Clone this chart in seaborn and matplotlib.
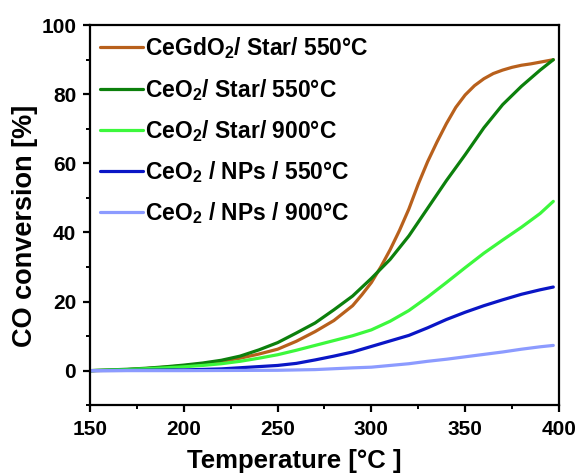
import matplotlib
matplotlib.use("Agg")
import matplotlib.pyplot as plt
from matplotlib.ticker import MultipleLocator
import pandas as pd
import seaborn as sns

# Light-off curves: CO conversion (%) versus temperature (°C)
temp_gd_star550 = [150, 160, 170, 180, 190, 200, 210, 220, 230, 240, 250, 260, 270, 280,
                   290, 295, 300, 305, 310, 315, 320, 325, 330, 335, 340, 345, 350, 355,
                   360, 365, 370, 375, 380, 385, 390, 397]
conv_gd_star550 = [0.0, 0.1, 0.3, 0.6, 1.0, 1.4, 2.0, 2.7, 3.6, 4.8, 6.2, 8.5, 11.3, 14.5,
                   18.8, 22.0, 25.5, 30.0, 35.0, 40.6, 46.8, 54.0, 60.5, 66.2, 71.5, 76.2, 79.8, 82.5,
                   84.5, 86.0, 87.0, 87.8, 88.4, 88.8, 89.3, 90.0]

temp_ce_star550 = [150, 160, 170, 180, 190, 200, 210, 220, 230, 240, 250, 260, 270, 280,
                   290, 300, 310, 320, 330, 340, 350, 360, 370, 380, 390, 397]
conv_ce_star550 = [0.0, 0.2, 0.4, 0.7, 1.1, 1.6, 2.2, 3.0, 4.2, 6.0, 8.1, 10.9, 13.8, 17.6,
                   21.6, 26.7, 32.2, 39.0, 47.0, 55.0, 62.5, 70.3, 77.0, 82.3, 87.0, 90.0]

temp_ce_star900 = [150, 170, 190, 200, 210, 220, 230, 240, 250, 260, 270, 280, 290, 300,
                   310, 320, 330, 340, 350, 360, 370, 380, 390, 397]
conv_ce_star900 = [0.0, 0.3, 0.8, 1.1, 1.5, 2.0, 2.7, 3.6, 4.6, 5.9, 7.3, 8.7, 10.1, 11.8,
                   14.3, 17.4, 21.3, 25.5, 29.8, 34.0, 37.8, 41.5, 45.5, 49.0]

temp_ce_nps550 = [150, 180, 200, 220, 235, 250, 260, 270, 280, 290, 300, 310, 320, 330,
                  340, 350, 360, 370, 380, 390, 397]
conv_ce_nps550 = [0.0, 0.1, 0.2, 0.5, 1.0, 1.5, 2.1, 3.1, 4.2, 5.4, 7.0, 8.6, 10.2, 12.4,
                  14.8, 16.9, 18.8, 20.5, 22.1, 23.4, 24.2]

temp_ce_nps900 = [150, 200, 250, 270, 290, 300, 310, 320, 330, 340, 350, 360, 370, 380,
                  390, 397]
conv_ce_nps900 = [0.0, 0.0, 0.1, 0.3, 0.8, 1.0, 1.5, 2.0, 2.7, 3.3, 4.0, 4.7, 5.4, 6.2,
                  6.9, 7.3]

series_labels = [
    "CeGdO$_2$/ Star/ 550°C",
    "CeO$_2$/ Star/ 550°C",
    "CeO$_2$/ Star/ 900°C",
    "CeO$_2$ / NPs / 550°C",
    "CeO$_2$ / NPs / 900°C",
]
series_colors = ["#B8601C", "#0C800C", "#3CF83C", "#0A16C6", "#8C9BFF"]

x_ticks = [150, 200, 250, 300, 350, 400]
y_ticks = [0, 20, 40, 60, 80, 100]

frames = []
for label, t, c in zip(series_labels,
                       [temp_gd_star550, temp_ce_star550, temp_ce_star900, temp_ce_nps550, temp_ce_nps900],
                       [conv_gd_star550, conv_ce_star550, conv_ce_star900, conv_ce_nps550, conv_ce_nps900]):
    frames.append(pd.DataFrame({"Temperature": t, "Conversion": c, "Sample": label}))
df = pd.concat(frames, ignore_index=True)

sns.set_theme(style="ticks")
plt.rcParams["font.family"] = ["Liberation Sans", "DejaVu Sans"]
plt.rcParams["font.weight"] = "bold"
plt.rcParams["text.color"] = "black"
plt.rcParams["axes.labelcolor"] = "black"
plt.rcParams["xtick.color"] = "black"
plt.rcParams["ytick.color"] = "black"
plt.rcParams["mathtext.fontset"] = "custom"
plt.rcParams["mathtext.rm"] = "Liberation Sans:bold"
plt.rcParams["mathtext.bf"] = "Liberation Sans:bold"
plt.rcParams["mathtext.it"] = "Liberation Sans:bold"
plt.rcParams["mathtext.default"] = "rm"

fig = plt.figure(figsize=(5.81, 4.75), dpi=100)
ax = fig.add_axes([0.155, 0.147, 0.807, 0.800])

sns.lineplot(data=df, x="Temperature", y="Conversion", hue="Sample",
             hue_order=series_labels, palette=series_colors, sort=False,
             linewidth=2.3, ax=ax, legend=True)

ax.set_xlim(150, 400)
ax.set_ylim(-10, 100)
ax.set_xticks(x_ticks)
ax.set_yticks(y_ticks)
ax.xaxis.set_minor_locator(MultipleLocator(25))
ax.yaxis.set_minor_locator(MultipleLocator(10))

for side in ["left", "right", "top", "bottom"]:
    ax.spines[side].set_linewidth(1.6)
    ax.spines[side].set_color("black")

ax.tick_params(axis="both", which="major", direction="out", length=5, width=1.6,
               labelsize=15, colors="black")
ax.tick_params(axis="x", which="major", pad=6)
ax.tick_params(axis="y", which="major", pad=5)
ax.tick_params(axis="both", which="minor", direction="out", length=3, width=1.4,
               colors="black")
for lbl in ax.get_xticklabels() + ax.get_yticklabels():
    lbl.set_fontweight("bold")
    lbl.set_color("black")

ax.set_xlabel("Temperature [°C ]", fontsize=18.5, fontweight="bold", color="black")
ax.set_ylabel("CO conversion [%]", fontsize=19.5, fontweight="bold", color="black")
ax.xaxis.set_label_coords(0.436, -0.115)
ax.yaxis.set_label_coords(-0.112, 0.471)

leg = ax.legend(loc="upper left", frameon=False, fontsize=16.5, handlelength=1.85,
                handletextpad=0.1, labelspacing=0.67, borderaxespad=0.25,
                borderpad=0.2, bbox_to_anchor=(0.0, 1.0))
for txt in leg.get_texts():
    txt.set_fontweight("bold")
    txt.set_color("black")
for line in leg.get_lines():
    line.set_linewidth(2.3)

fig.savefig("out.png", dpi=100)
